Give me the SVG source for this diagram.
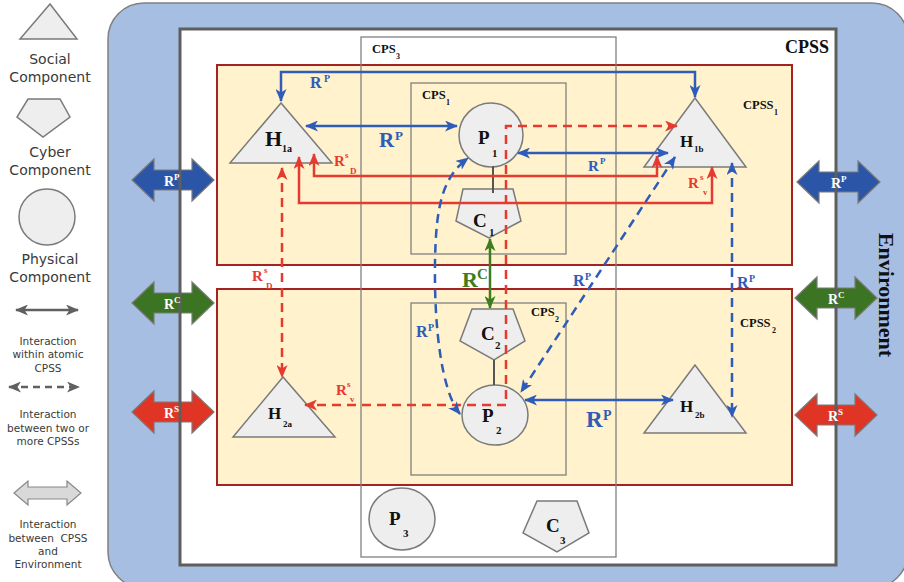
<svg xmlns="http://www.w3.org/2000/svg" width="904" height="582" viewBox="0 0 904 582">
<style>
.shape{fill:#eeeeee;stroke:#7a7a7a;stroke-width:1.5}
.box{fill:#fff2cc;stroke:#a52222;stroke-width:2}
.cps{fill:none;stroke:#808080;stroke-width:1.3}
.lbl{font-family:"Liberation Serif","DejaVu Serif",serif;font-weight:bold;fill:#111}
.leg{font-family:"DejaVu Sans","Noto Sans",sans-serif;fill:#3a3a3a;text-anchor:middle}
.big{font-size:14px}
.sm{font-size:10.5px}
.b{stroke:#2e5cb8;stroke-width:2.5;fill:none}
.r{stroke:#e53a2f;stroke-width:2.5;fill:none}
.g{stroke:#3d7d1f;stroke-width:2.5;fill:none}
.d{stroke-dasharray:9 6}
.bt{fill:#2e5cb8}
.rt{fill:#e53a2f}
.gt{fill:#3d7d1f}
.env{stroke:#7a7a7a;stroke-width:1.2}
.wt{fill:#ffffff}
</style>
<defs>
<marker id="mb" viewBox="0 0 13 11" refX="12" refY="5.5" markerWidth="13" markerHeight="11" markerUnits="userSpaceOnUse" orient="auto-start-reverse"><path d="M0,0 L13,5.5 L0,11 L3.5,5.5 Z" fill="#2e5cb8"/></marker>
<marker id="mr" viewBox="0 0 13 11" refX="12" refY="5.5" markerWidth="13" markerHeight="11" markerUnits="userSpaceOnUse" orient="auto-start-reverse"><path d="M0,0 L13,5.5 L0,11 L3.5,5.5 Z" fill="#e53a2f"/></marker>
<marker id="mg" viewBox="0 0 13 11" refX="12" refY="5.5" markerWidth="13" markerHeight="11" markerUnits="userSpaceOnUse" orient="auto-start-reverse"><path d="M0,0 L13,5.5 L0,11 L3.5,5.5 Z" fill="#3d7d1f"/></marker>
<marker id="mk" viewBox="0 0 13 11" refX="12" refY="5.5" markerWidth="13" markerHeight="11" markerUnits="userSpaceOnUse" orient="auto-start-reverse"><path d="M0,0 L13,5.5 L0,11 L3.5,5.5 Z" fill="#606060"/></marker>
</defs>

<g id="environment">
<rect x="108" y="3" width="800" height="585" rx="36" fill="#a7bee3" stroke="#808080" stroke-width="1.5"/>
<text class="lbl" font-size="22" transform="translate(879,295) rotate(90)" text-anchor="middle">Environment</text>
</g>

<g id="cpss">
<rect x="180" y="29" width="656" height="536" fill="#ffffff"/>
<text class="lbl" x="785" y="53" font-size="18">CPSS</text>
</g>

<g id="cpss1">
<rect class="box" x="217" y="65" width="575" height="200"/>
<text class="lbl" x="743" y="109" font-size="12.5">CPSS<tspan x="774" y="115" font-size="8">1</tspan></text>
</g>
<g id="cpss2">
<rect class="box" x="217" y="289" width="575" height="196"/>
<text class="lbl" x="740" y="327" font-size="12.5">CPSS<tspan x="772" y="333" font-size="8">2</tspan></text>
</g>

<g id="cps3">
<rect class="cps" x="361" y="37" width="255" height="520"/>
<text class="lbl" x="372" y="53" font-size="12.5">CPS<tspan x="396" y="59" font-size="8">3</tspan></text>
</g>
<g id="cps1">
<rect class="cps" x="411" y="83" width="155" height="171"/>
<text class="lbl" x="422" y="99" font-size="12.5">CPS<tspan x="446" y="105" font-size="8">1</tspan></text>
</g>
<g id="cps2">
<rect class="cps" x="411" y="303" width="155" height="172"/>
<text class="lbl" x="531" y="316" font-size="12.5">CPS<tspan x="555" y="322" font-size="8">2</tspan></text>
</g>

<g id="H1a">
<polygon class="shape" points="281,103 230,163 332,163"/>
<text class="lbl" x="265" y="146" font-size="22">H<tspan x="282" y="152" font-size="10">1a</tspan></text>
</g>
<g id="H1b">
<polygon class="shape" points="695,98 644,167 746,167"/>
<text class="lbl" x="680" y="147" font-size="17">H<tspan x="694" y="152" font-size="9">1b</tspan></text>
</g>
<g id="H2a">
<polygon class="shape" points="283,377 233,437 335,437"/>
<text class="lbl" x="268" y="419" font-size="17">H<tspan x="283" y="427" font-size="9">2a</tspan></text>
</g>
<g id="H2b">
<polygon class="shape" points="695,365 644,433 746,433"/>
<text class="lbl" x="680" y="412" font-size="17">H<tspan x="695" y="418" font-size="9">2b</tspan></text>
</g>
<g id="P1">
<ellipse class="shape" cx="491" cy="135" rx="32" ry="32"/>
<text class="lbl" x="478" y="144" font-size="19">P<tspan x="492" y="157" font-size="11">1</tspan></text>
</g>
<g id="C1">
<polygon class="shape" points="463,189 513,189 521,221 489,238 456,221"/>
<text class="lbl" x="473" y="227" font-size="19">C<tspan x="489" y="236" font-size="11">1</tspan></text>
</g>
<g id="C2">
<polygon class="shape" points="472,309 513,309 525,341 494,360 460,341"/>
<text class="lbl" x="481" y="340" font-size="19">C<tspan x="495" y="349" font-size="11">2</tspan></text>
</g>
<g id="P2">
<ellipse class="shape" cx="495" cy="415" rx="33" ry="30"/>
<text class="lbl" x="482" y="422" font-size="19">P<tspan x="496" y="434" font-size="11">2</tspan></text>
</g>
<g id="P3">
<ellipse class="shape" cx="402" cy="519" rx="33" ry="31"/>
<text class="lbl" x="389" y="525" font-size="19">P<tspan x="403" y="537" font-size="11">3</tspan></text>
</g>
<g id="C3">
<polygon class="shape" points="537,501 577,501 589,533 557,552 523,533"/>
<text class="lbl" x="546" y="532" font-size="19">C<tspan x="560" y="544" font-size="11">3</tspan></text>
</g>

<g id="connectors">
<path d="M493,166 V193" stroke="#555" stroke-width="2"/>
<path d="M494,360 V385" stroke="#555" stroke-width="2"/>
<path class="b" d="M281,101 V72 H695 V97" marker-start="url(#mb)" marker-end="url(#mb)"/>
<path class="b" d="M306,126 H457" marker-start="url(#mb)" marker-end="url(#mb)"/>
<path class="b" d="M518,153 H668" marker-start="url(#mb)" marker-end="url(#mb)"/>
<path class="b" d="M525,400 H673" marker-start="url(#mb)" marker-end="url(#mb)"/>
<path class="r d" d="M677,126 H506 V405 H305" marker-start="url(#mr)" marker-end="url(#mr)"/>
<path class="r" d="M314,154 V176 H657 V156" marker-start="url(#mr)" marker-end="url(#mr)"/>
<path class="r" d="M299,157 V203 H712 V167" marker-start="url(#mr)" marker-end="url(#mr)"/>
<path class="r d" d="M282,168 V377" marker-start="url(#mr)" marker-end="url(#mr)"/>
<path class="g" d="M490,239 V308" marker-start="url(#mg)" marker-end="url(#mg)"/>
<path class="b d" d="M460,414 C442,392 434,330 435,262 C436,206 442,178 468,158" marker-start="url(#mb)" marker-end="url(#mb)"/>
<path class="b d" d="M675,157 L521,392" marker-start="url(#mb)" marker-end="url(#mb)"/>
<path class="b d" d="M732,163 V417" marker-start="url(#mb)" marker-end="url(#mb)"/>

<text class="lbl bt" x="310" y="88" font-size="16">R<tspan x="324" y="82" font-size="10">P</tspan></text>
<text class="lbl bt" x="379" y="147" font-size="21">R<tspan x="395" y="140" font-size="13">P</tspan></text>
<text class="lbl bt" x="588" y="171" font-size="15">R<tspan x="600" y="164" font-size="9">P</tspan></text>
<text class="lbl rt" x="334" y="166" font-size="15">R<tspan x="345" y="158" font-size="9">s</tspan><tspan x="350" y="174" font-size="9">D</tspan></text>
<text class="lbl rt" x="688" y="188" font-size="15">R<tspan x="700" y="180" font-size="9">s</tspan><tspan x="703" y="195" font-size="9">v</tspan></text>
<text class="lbl rt" x="252" y="281" font-size="15">R<tspan x="264" y="273" font-size="9">s</tspan><tspan x="266" y="289" font-size="9">D</tspan></text>
<text class="lbl rt" x="336" y="395" font-size="15">R<tspan x="347" y="387" font-size="9">s</tspan><tspan x="350" y="402" font-size="9">v</tspan></text>
<text class="lbl gt" x="462" y="287" font-size="22">R<tspan x="477" y="279" font-size="15">C</tspan></text>
<text class="lbl bt" x="416" y="337" font-size="16">R<tspan x="428" y="331" font-size="10">P</tspan></text>
<text class="lbl bt" x="573" y="286" font-size="16">R<tspan x="585" y="280" font-size="10">P</tspan></text>
<text class="lbl bt" x="737" y="288" font-size="16">R<tspan x="749" y="282" font-size="10">P</tspan></text>
<text class="lbl bt" x="586" y="427" font-size="23">R<tspan x="603" y="420" font-size="14">P</tspan></text>
</g>

<g id="env-arrows">
<polygon class="env" fill="#2b56a8" points="132,180 154,159 154,170 192,170 192,159 214,180 192,201 192,190 154,190 154,201"/>
<polygon class="env" fill="#3b7422" points="132,303 154,282 154,293 192,293 192,282 214,303 192,324 192,313 154,313 154,324"/>
<polygon class="env" fill="#e03424" points="132,412 154,391 154,402 192,402 192,391 214,412 192,433 192,422 154,422 154,433"/>
<polygon class="env" fill="#2b56a8" points="797,182 819,161 819,172 858,172 858,161 880,182 858,203 858,192 819,192 819,203"/>
<polygon class="env" fill="#3b7422" points="795,298 817,277 817,288 855,288 855,277 877,298 855,319 855,308 817,308 817,319"/>
<polygon class="env" fill="#e03424" points="795,415 817,394 817,405 855,405 855,394 877,415 855,436 855,425 817,425 817,436"/>
</g>

<rect id="cpss-border" x="180" y="29" width="656" height="536" fill="none" stroke="#5e5e5e" stroke-width="3"/>

<g id="env-arrow-labels">
<text class="lbl wt" x="164" y="186" font-size="14">R<tspan x="174" y="180" font-size="9">P</tspan></text>
<text class="lbl wt" x="164" y="309" font-size="14">R<tspan x="174" y="303" font-size="9">C</tspan></text>
<text class="lbl wt" x="164" y="418" font-size="14">R<tspan x="174" y="412" font-size="9">S</tspan></text>
<text class="lbl wt" x="831" y="188" font-size="14">R<tspan x="841" y="182" font-size="9">P</tspan></text>
<text class="lbl wt" x="828" y="304" font-size="14">R<tspan x="838" y="298" font-size="9">C</tspan></text>
<text class="lbl wt" x="828" y="421" font-size="14">R<tspan x="838" y="415" font-size="9">S</tspan></text>
</g>

<g id="legend">
<polygon class="shape" points="50,4 20,39 77,39"/>
<text class="leg big" x="50" y="64">Social</text>
<text class="leg big" x="50" y="82">Component</text>
<polygon class="shape" points="28,99 60,99 70,117 43,137 17,117"/>
<text class="leg big" x="50" y="157">Cyber</text>
<text class="leg big" x="50" y="175">Component</text>
<circle class="shape" cx="47" cy="217" r="28"/>
<text class="leg big" x="50" y="264">Physical</text>
<text class="leg big" x="50" y="282">Component</text>
<path d="M16,310 H78" stroke="#606060" stroke-width="2.5" marker-start="url(#mk)" marker-end="url(#mk)"/>
<text class="leg sm" x="48" y="345">Interaction</text>
<text class="leg sm" x="48" y="358">within atomic</text>
<text class="leg sm" x="48" y="372">CPSS</text>
<path d="M9,387 H79" stroke="#606060" stroke-width="2.5" stroke-dasharray="7 5" marker-start="url(#mk)" marker-end="url(#mk)"/>
<text class="leg sm" x="48" y="418">Interaction</text>
<text class="leg sm" x="48" y="432">between two or</text>
<text class="leg sm" x="48" y="445">more CPSSs</text>
<polygon points="14,493 28,481 28,487 67,487 67,481 81,493 67,505 67,499 28,499 28,505" fill="#d9d9d9" stroke="#888" stroke-width="1.2"/>
<text class="leg sm" x="48" y="528">Interaction</text>
<text class="leg sm" x="48" y="542">between&#160; CPSS</text>
<text class="leg sm" x="48" y="555">and</text>
<text class="leg sm" x="48" y="568">Environment</text>
</g>
</svg>
